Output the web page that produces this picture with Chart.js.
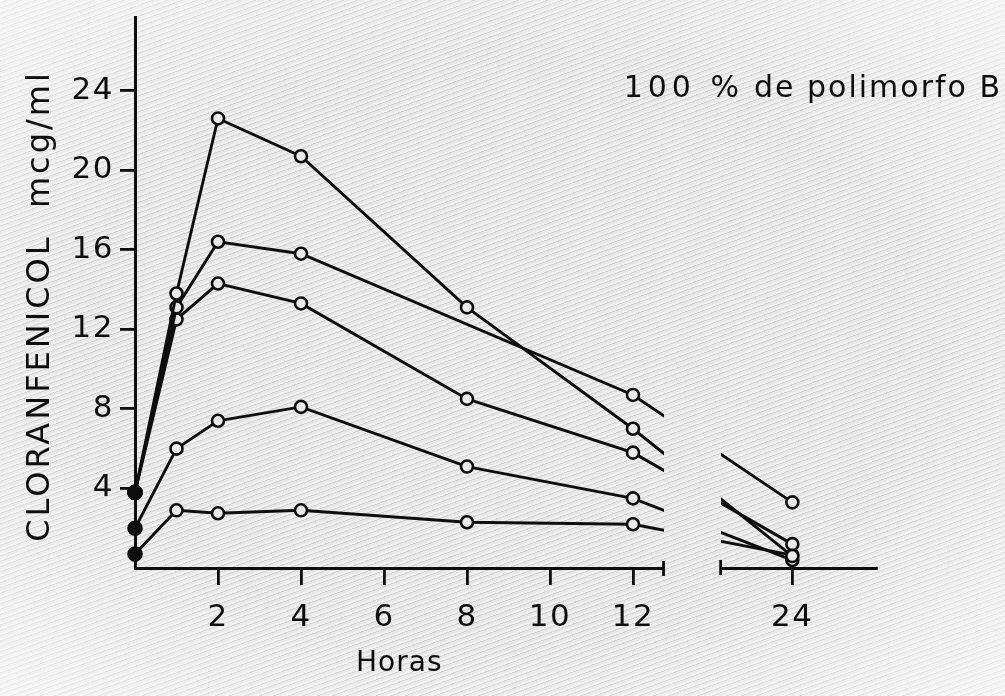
<!DOCTYPE html>
<html lang="es">
<head>
<meta charset="utf-8">
<title>Cloranfenicol - 100 % de polimorfo B</title>
<script src="https://cdn.jsdelivr.net/npm/chart.js@4.4.0/dist/chart.umd.min.js"></script>
<style>
  html, body { margin: 0; padding: 0; }
  body {
    width: 1005px;
    height: 696px;
    overflow: hidden;
    background-color: #e4e4e4;
    background-image:
      radial-gradient(ellipse at 50% 50%, rgba(255,255,255,0) 60%, rgba(255,255,255,0.55) 100%),
      repeating-linear-gradient(160deg, #efefef 0 2px, #d3d3d3 2px 3px, #e6e6e6 3px 5px);
  }
  canvas { display: block; }
</style>
</head>
<body>
<canvas id="grafica" width="1005" height="696"></canvas>
<script>
// horas de muestreo
const horas = [0, 1, 2, 4, 8, 12, 24];

// cloranfenicol en sangre (mcg/ml), un arreglo por sujeto
const sujeto1 = [3.8, 13.8, 22.6, 20.7, 13.1, 7.0, 0.6];
const sujeto2 = [3.8, 13.1, 16.4, 15.8, null, 8.7, 3.3];
const sujeto3 = [3.8, 12.5, 14.3, 13.3, 8.5, 5.8, 1.2];
const sujeto4 = [2.0, 6.0, 7.4, 8.1, 5.1, 3.5, 0.4];
const sujeto5 = [0.7, 2.9, 2.75, 2.9, 2.3, 2.2, 0.65];

const ticksX = [2, 4, 6, 8, 10, 12, 24];
const ticksY = [4, 8, 12, 16, 20, 24];

// eje de tiempo quebrado: despues de las 12 h la escala se comprime
const corte = 12;
const compresion = 0.32;
const inicioCorte = 14.3;
const finCorte = 18.6;

const tinta = '#0e0e0e';
const fondo = '#e9e9e9';
const fuente = 'DejaVu Sans';

function comprimir(h) {
  return h <= corte ? h : corte + (h - corte) * compresion;
}
function descomprimir(v) {
  return v <= corte ? v : corte + (v - corte) / compresion;
}

class EscalaQuebrada extends Chart.LinearScale {
  getPixelForValue(value) {
    if (value === null || value === undefined) return NaN;
    const a = comprimir(this.min), b = comprimir(this.max);
    return this.getPixelForDecimal((comprimir(value) - a) / (b - a));
  }
  getValueForPixel(pixel) {
    const a = comprimir(this.min), b = comprimir(this.max);
    return descomprimir(a + this.getDecimalForPixel(pixel) * (b - a));
  }
}
EscalaQuebrada.id = 'quebrada';
EscalaQuebrada.defaults = Chart.LinearScale.defaults;
Chart.register(EscalaQuebrada);

// borra el tramo del corte y dibuja los textos sueltos
const cortePlugin = {
  id: 'corte',
  beforeDraw(chart) {
    chart.ctx.letterSpacing = '1.5px';
  },
  beforeDatasetsDraw(chart) {
    chart.ctx.letterSpacing = '0px';
  },
  afterDatasetsDraw(chart) {
    const { ctx, chartArea, scales: { x } } = chart;
    const a = x.getPixelForValue(inicioCorte);
    const b = x.getPixelForValue(finCorte);
    const yEje = chartArea.bottom;
    ctx.save();
    ctx.clearRect(a, chartArea.top, b - a, yEje - chartArea.top + 3);
    ctx.strokeStyle = tinta;
    ctx.lineWidth = 2.8;
    ctx.beginPath();
    ctx.moveTo(a, yEje - 7);
    ctx.lineTo(a, yEje + 8);
    ctx.moveTo(b, yEje - 8);
    ctx.lineTo(b, yEje + 7);
    ctx.stroke();
    ctx.restore();
  },
  afterDraw(chart) {
    const { ctx, scales: { x } } = chart;
    ctx.save();
    ctx.fillStyle = tinta;

    ctx.font = '28px "' + fuente + '"';
    ctx.letterSpacing = '1px';
    ctx.textAlign = 'center';
    ctx.textBaseline = 'middle';
    const centro = (x.getPixelForValue(0) + x.getPixelForValue(inicioCorte)) / 2;
    ctx.fillText('Horas', centro, 664);

    ctx.font = '30px "' + fuente + '"';
    ctx.textAlign = 'right';
    ctx.textBaseline = 'alphabetic';
    ctx.letterSpacing = '2px';
    ctx.fillText('de polimorfo B', 1002, 97);
    ctx.letterSpacing = '5px';
    ctx.fillText('100 %', 744, 97);

    // titulo del eje vertical
    ctx.font = '32px "' + fuente + '"';
    ctx.letterSpacing = '3px';
    ctx.textAlign = 'center';
    ctx.translate(49, 306);
    ctx.rotate(-Math.PI / 2);
    ctx.fillText('CLORANFENICOL  mcg/ml', 0, 0);
    ctx.restore();
  }
};

const series = [sujeto1, sujeto2, sujeto3, sujeto4, sujeto5];

const datasets = series.map(valores => ({
  data: horas.map((h, i) => ({ x: h, y: valores[i] })),
  borderColor: tinta,
  borderWidth: 2.9,
  pointRadius: ctx => (ctx.raw && ctx.raw.x === 0 ? 6.5 : 6),
  pointBackgroundColor: ctx => (ctx.raw && ctx.raw.x === 0 ? tinta : fondo),
  pointBorderColor: tinta,
  pointBorderWidth: 2.6,
  pointHoverRadius: 6,
  spanGaps: true,
  clip: false,
  tension: 0
}));

new Chart(document.getElementById('grafica'), {
  type: 'line',
  data: { datasets: datasets },
  options: {
    responsive: false,
    devicePixelRatio: 1,
    animation: false,
    layout: { padding: { top: 17, right: 129, bottom: 0, left: 0 } },
    plugins: {
      legend: { display: false },
      tooltip: { enabled: false }
    },
    scales: {
      x: {
        type: 'quebrada',
        min: 0,
        max: 30.3,
        afterBuildTicks: s => { s.ticks = ticksX.map(v => ({ value: v })); },
        afterFit: s => { s.height = 128; s.paddingLeft = 0; s.paddingRight = 0; },
        grid: { drawOnChartArea: false, tickLength: 17, color: tinta, lineWidth: 2.8 },
        border: { color: tinta, width: 3 },
        ticks: {
          autoSkip: false,
          maxRotation: 0,
          padding: 14,
          color: tinta,
          font: { family: fuente, size: 31 }
        }
      },
      y: {
        min: 0,
        max: 27.7,
        afterBuildTicks: s => { s.ticks = ticksY.map(v => ({ value: v })); },
        afterFit: s => { s.width = 135; s.paddingTop = 0; s.paddingBottom = 0; },
        grid: { drawOnChartArea: false, tickLength: 15, color: tinta, lineWidth: 2.8 },
        border: { color: tinta, width: 3 },
        ticks: {
          padding: 6,
          color: tinta,
          font: { family: fuente, size: 31 }
        }
      }
    }
  },
  plugins: [cortePlugin]
});
</script>
</body>
</html>
